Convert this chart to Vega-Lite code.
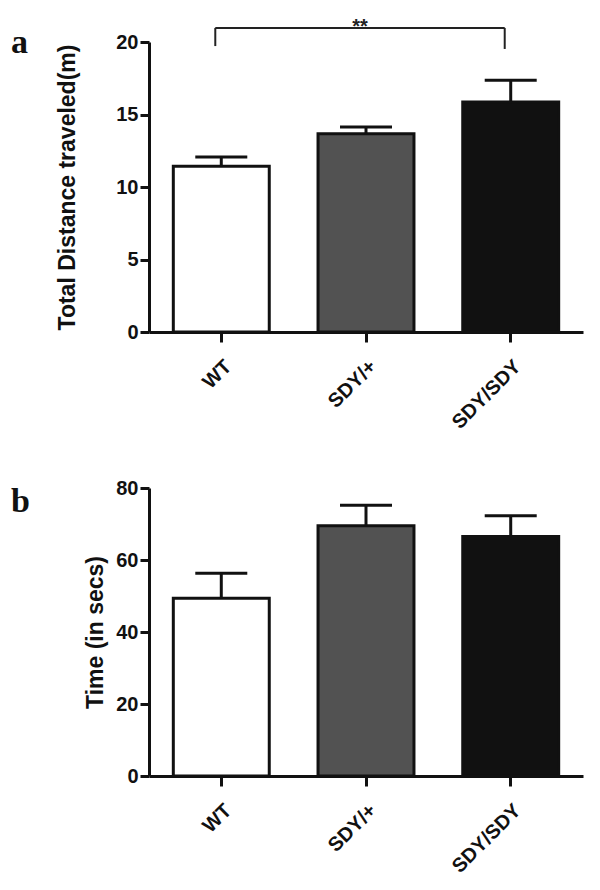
{
  "$schema": "https://vega.github.io/schema/vega-lite/v6.json",
  "background": "white",
  "padding": {"left": 11, "top": 16, "right": 5, "bottom": 5},
  "datasets": {
    "a": [
      {"g": "WT", "m": 11.43, "up": 12.07},
      {"g": "SDY/+", "m": 13.68, "up": 14.14},
      {"g": "SDY/SDY", "m": 15.86, "up": 17.36}
    ],
    "b": [
      {"g": "WT", "m": 49.4, "up": 56.3},
      {"g": "SDY/+", "m": 69.5, "up": 75.2},
      {"g": "SDY/SDY", "m": 66.5, "up": 72.3}
    ],
    "bracket": [
      {"g1": "WT", "g2": "SDY/SDY", "y": 20.97}
    ],
    "legs": [
      {"g": "WT", "y": 20.97, "y2": 19.72},
      {"g": "SDY/SDY", "y": 20.97, "y2": 19.52}
    ],
    "sig": [
      {"g": "SDY/+", "y": 20.97, "t": "**"}
    ]
  },
  "config": {
    "view": {"stroke": null},
    "axis": {
      "labelFont": "Liberation Sans", "labelFontWeight": "bold", "labelFontSize": 20, "labelColor": "#111",
      "titleFont": "Liberation Sans", "titleFontWeight": "bold", "titleFontSize": 23, "titleColor": "#111",
      "domainColor": "#111", "domainWidth": 3, "tickColor": "#111", "tickWidth": 3, "grid": false
    },
    "title": {"font": "Liberation Serif", "fontWeight": "bold", "fontSize": 34, "anchor": "start", "frame": "group", "color": "#111", "offset": 0, "baseline": "alphabetic"}
  },
  "spacing": 45,
  "vconcat": [
    {
      "title": {"text": "a", "dx": -138, "dy": 47},
      "width": 434,
      "height": 290,
      "layer": [
        {
          "data": {"name": "a"},
          "mark": {"type": "bar", "stroke": "#111", "strokeWidth": 3},
          "encoding": {
            "x": {"field": "g", "type": "nominal", "sort": null,
              "scale": {"domain": ["WT", "SDY/+", "SDY/SDY"], "paddingInner": 0.337, "paddingOuter": 0.168},
              "axis": {"title": null, "labelAngle": -45, "tickSize": 10, "labelPadding": 14}},
            "y": {"field": "m", "type": "quantitative",
              "scale": {"domain": [0, 20], "nice": false},
              "axis": {"values": [0, 5, 10, 15, 20], "title": "Total Distance traveled(m)", "titlePadding": 36, "tickSize": 9, "labelPadding": 2}},
            "fill": {"field": "g", "type": "nominal",
              "scale": {"domain": ["WT", "SDY/+", "SDY/SDY"], "range": ["#ffffff", "#525252", "#111111"]}, "legend": null}
          }
        },
        {
          "data": {"name": "a"},
          "mark": {"type": "rule", "strokeWidth": 3, "color": "#111"},
          "encoding": {
            "x": {"field": "g", "type": "nominal", "sort": null},
            "y": {"field": "m", "type": "quantitative"},
            "y2": {"field": "up"}
          }
        },
        {
          "data": {"name": "a"},
          "mark": {"type": "tick", "size": 52, "thickness": 3, "color": "#111", "orient": "horizontal", "opacity": 1},
          "encoding": {
            "x": {"field": "g", "type": "nominal", "sort": null},
            "y": {"field": "up", "type": "quantitative"}
          }
        },
        {
          "data": {"name": "bracket"},
          "mark": {"type": "rule", "strokeWidth": 2, "color": "#222", "xOffset": -6, "x2Offset": -6},
          "encoding": {
            "x": {"field": "g1", "type": "nominal", "sort": null},
            "x2": {"field": "g2"},
            "y": {"field": "y", "type": "quantitative"}
          }
        },
        {
          "data": {"name": "legs"},
          "mark": {"type": "rule", "strokeWidth": 2, "color": "#222", "xOffset": -6},
          "encoding": {
            "x": {"field": "g", "type": "nominal", "sort": null},
            "y": {"field": "y", "type": "quantitative"},
            "y2": {"field": "y2"}
          }
        },
        {
          "data": {"name": "sig"},
          "mark": {"type": "text", "font": "Liberation Sans", "fontWeight": "bold", "fontSize": 20, "baseline": "alphabetic", "dy": 5, "xOffset": -6, "color": "#222"},
          "encoding": {
            "x": {"field": "g", "type": "nominal", "sort": null},
            "y": {"field": "y", "type": "quantitative"},
            "text": {"field": "t"}
          }
        }
      ]
    },
    {
      "title": {"text": "b", "dx": -138, "dy": 45},
      "width": 434,
      "height": 288,
      "layer": [
        {
          "data": {"name": "b"},
          "mark": {"type": "bar", "stroke": "#111", "strokeWidth": 3},
          "encoding": {
            "x": {"field": "g", "type": "nominal", "sort": null,
              "scale": {"domain": ["WT", "SDY/+", "SDY/SDY"], "paddingInner": 0.337, "paddingOuter": 0.168},
              "axis": {"title": null, "labelAngle": -45, "tickSize": 10, "labelPadding": 14}},
            "y": {"field": "m", "type": "quantitative",
              "scale": {"domain": [0, 80], "nice": false},
              "axis": {"values": [0, 20, 40, 60, 80], "title": "Time (in secs)", "titlePadding": 8, "tickSize": 9, "labelPadding": 2}},
            "fill": {"field": "g", "type": "nominal",
              "scale": {"domain": ["WT", "SDY/+", "SDY/SDY"], "range": ["#ffffff", "#525252", "#111111"]}, "legend": null}
          }
        },
        {
          "data": {"name": "b"},
          "mark": {"type": "rule", "strokeWidth": 3, "color": "#111"},
          "encoding": {
            "x": {"field": "g", "type": "nominal", "sort": null},
            "y": {"field": "m", "type": "quantitative"},
            "y2": {"field": "up"}
          }
        },
        {
          "data": {"name": "b"},
          "mark": {"type": "tick", "size": 52, "thickness": 3, "color": "#111", "orient": "horizontal", "opacity": 1},
          "encoding": {
            "x": {"field": "g", "type": "nominal", "sort": null},
            "y": {"field": "up", "type": "quantitative"}
          }
        }
      ]
    }
  ]
}
